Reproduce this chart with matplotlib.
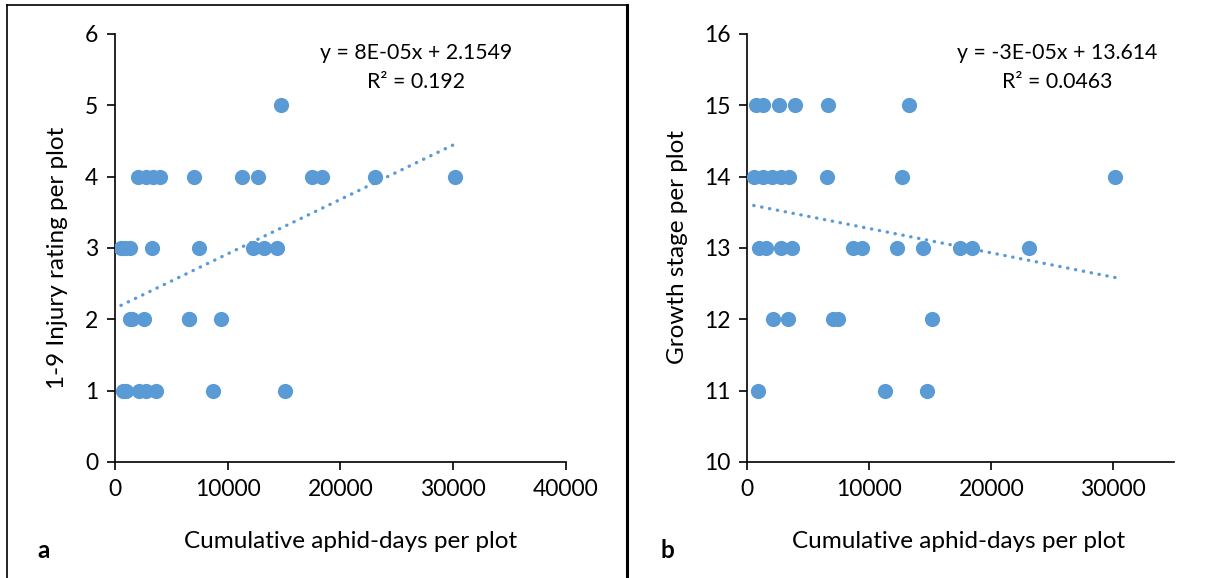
import numpy as np
import matplotlib.pyplot as plt

# cumulative aphid-days per plot, one value per plot
aphid_days = [530, 750, 900, 960, 1290, 1310, 1550, 2010, 2100, 2600, 2790, 2790,
              3310, 3380, 3640, 3950, 6540, 6590, 7000, 7420, 8660, 9440, 11250,
              12240, 12720, 13250, 14400, 14755, 15100, 17460, 18400, 23060, 30140]
# 1-9 injury rating per plot
injury = [3, 1, 3, 1, 3, 2, 2, 4, 1, 2, 4, 1,
          3, 4, 1, 4, 2, 2, 4, 3, 1, 2, 4,
          3, 4, 3, 3, 5, 1, 4, 4, 4, 4]
# growth stage per plot
growth_stage = [14, 15, 11, 13, 15, 14, 13, 14, 12, 15, 14, 13,
                12, 14, 13, 15, 14, 15, 12, 12, 13, 13, 11,
                13, 14, 15, 13, 11, 12, 13, 13, 13, 14]

# trendlines as drawn (slope, intercept)
trend_a = [7.63e-05, 2.1549]
trend_b = [-3.41e-05, 13.614]

eq_a = ["y = 8E-05x + 2.1549", "R\u00b2 = 0.192"]
eq_b = ["y = -3E-05x + 13.614", "R\u00b2 = 0.0463"]

W, H = 1226, 578
plt.rcParams['font.family'] = ['Lato', 'DejaVu Sans']
blue = '#5B9BD5'

fig = plt.figure(figsize=(W / 100, H / 100), dpi=100)


def px(x, y):
    return x / W, 1 - y / H


def panel(left, right, data_y, trend, ylim, yticks, xmax, xticks, eq, eq_x,
          ylabel, ylab_x, ylab_y, xlab_x, tag, tag_x):
    x0, y0 = px(left, 462)
    x1, y1 = px(right, 34)
    ax = fig.add_axes([x0, y0, x1 - x0, y1 - y0])
    x = np.array(aphid_days, dtype=float)
    y = np.array(data_y, dtype=float)
    ax.scatter(x, y, s=120, color=blue, zorder=3, linewidths=0)
    xs = np.array([x.min(), x.max()])
    ax.plot(xs, trend[0] * xs + trend[1], color=blue, lw=2.4, linestyle=(0, (0.1, 2.3)),
            dash_capstyle='round', zorder=2)
    ax.set_xlim(0, xmax)
    ax.set_ylim(*ylim)
    ax.set_xticks(xticks)
    ax.set_yticks(yticks)
    ax.tick_params(labelsize=16.5, length=6, width=1.2, direction='out', pad=6)
    for s in ['top', 'right']:
        ax.spines[s].set_visible(False)
    for s in ['left', 'bottom']:
        ax.spines[s].set_linewidth(1.2)
    ax.patch.set_alpha(0)
    fx, fy = px(eq_x, 53)
    fig.text(fx, fy, eq[0], fontsize=15.3, ha='center', va='center')
    fx, fy = px(eq_x, 82)
    fig.text(fx, fy, eq[1], fontsize=15.3, ha='center', va='center')
    fx, fy = px(ylab_x, ylab_y)
    fig.text(fx, fy, ylabel, fontsize=17.5, rotation=90, ha='center', va='center')
    fx, fy = px(xlab_x, 541)
    fig.text(fx, fy, 'Cumulative aphid-days per plot', fontsize=17.5, ha='center', va='center')
    fx, fy = px(tag_x, 550)
    fig.text(fx, fy, tag, fontsize=17.5, fontweight='bold', ha='center', va='center')
    return ax


panel(115, 565.7, injury, trend_a, (0, 6), range(0, 7), 40000, range(0, 40001, 10000),
      eq_a, 416, '1-9 Injury rating per plot', 57, 258, 351, 'a', 44)
panel(747.3, 1174.3, growth_stage, trend_b, (10, 16), range(10, 17), 35000, range(0, 30001, 10000),
      eq_b, 1057, 'Growth stage per plot', 677, 247, 959, 'b', 667)

# outer frame of panel a and the divider between panels
fig.add_artist(plt.Line2D([7 / W, 7 / W], [0, 1 - 5 / H], color='black', lw=1.2))
fig.add_artist(plt.Line2D([7 / W, 627 / W], [1 - 5 / H, 1 - 5 / H], color='black', lw=1.2))
fig.add_artist(plt.Line2D([627 / W, 627 / W], [0, 1 - 5 / H], color='black', lw=2.2))

fig.savefig('out.png', dpi=100)
